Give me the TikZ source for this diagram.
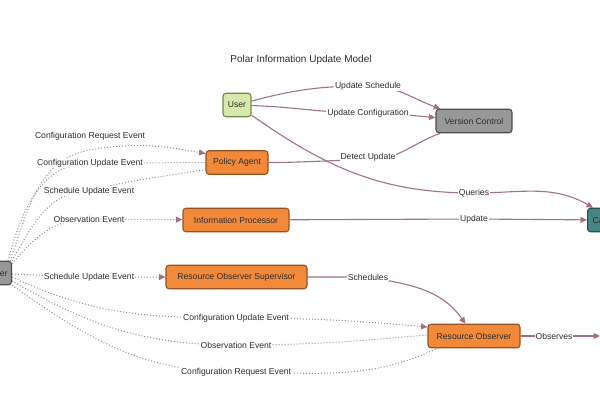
\documentclass[tikz,border=0pt]{standalone}
\usepackage{fontspec}
\setmainfont{Liberation Sans}
\usetikzlibrary{arrows.meta,backgrounds}
\definecolor{agentfill}{RGB}{241,137,58}
\definecolor{agentline}{RGB}{150,82,32}
\definecolor{userfill}{RGB}{214,232,172}
\definecolor{userline}{RGB}{112,140,72}
\definecolor{storefill}{RGB}{152,152,152}
\definecolor{storeline}{RGB}{78,78,78}
\definecolor{cachefill}{RGB}{72,132,132}
\definecolor{cacheline}{RGB}{38,80,80}
\definecolor{linkcol}{RGB}{164,112,132}
\definecolor{eventcol}{RGB}{140,140,140}
\definecolor{inkcol}{RGB}{45,45,45}

\begin{document}
\begin{tikzpicture}[x=1pt, y=-1pt,
  box/.style={draw, rounded corners=3pt, line width=1.1pt, minimum height=23.5pt,
    inner xsep=2pt, text=inkcol, font=\fontsize{8.6}{10}\selectfont},
  agent/.style={box, fill=agentfill, draw=agentline},
  person/.style={box, fill=userfill, draw=userline},
  store/.style={box, fill=storefill, draw=storeline},
  cache/.style={box, fill=cachefill, draw=cacheline},
  lbl/.style={fill=white, inner sep=1pt, text=inkcol, font=\fontsize{8.6}{10}\selectfont},
  tip/.style={-{Triangle[length=6.5pt,width=6pt,color=linkcol]}},
  link/.style={draw=linkcol, line width=1.1pt},
  event/.style={draw=eventcol, line width=1pt, dotted}]
\useasboundingbox (0,0) rectangle (600,400);

\node[font=\fontsize{10}{12}\selectfont, text=inkcol] (title) at (301,60) {Polar Information Update Model};

% actors
\node[person, minimum width=28pt] (user) at (237,105) {User};
\node[store, minimum width=76pt] (vc) at (474,121) {Version Control};
\node[agent, minimum width=62pt] (pa) at (237,162.5) {Policy Agent};
\node[agent, minimum width=106pt] (ip) at (236,220) {Information Processor};
\node[agent, minimum width=141pt] (ros) at (236.5,277) {Resource Observer Supervisor};
\node[agent, minimum width=92pt] (ro) at (474,336) {Resource Observer};
\node[store, anchor=east, inner xsep=4pt] (bus) at (12,273) {Event Broker};
\node[cache, anchor=west, inner xsep=5pt] (cache) at (587,220) {Cache};
\coordinate (obs) at (600,336);

% edge labels
\node[lbl] (lsched) at (368,86) {Update Schedule};
\node[lbl] (lconf) at (368,113) {Update Configuration};
\node[lbl] (ldet) at (368,157) {Detect Update};
\node[lbl] (lqry) at (474,193) {Queries};
\node[lbl] (lupd) at (474,219) {Update};
\node[lbl] (lros) at (368,277) {Schedules};
\node[lbl] (lobs) at (554,336) {Observes};

\foreach \n/\x/\y/\t in {ecr1/90/136/Configuration Request Event,
  ecu1/90/163/Configuration Update Event, esu1/89/191/Schedule Update Event,
  eob1/89/219/Observation Event, esu2/89/277/Schedule Update Event,
  ecu2/236/318/Configuration Update Event, eob2/236/345/Observation Event,
  ecr2/236/372/Configuration Request Event}
{
\node[lbl] (\n) at (\x,\y) {\t};
}

\begin{scope}[on background layer]
\draw[link, tip] (user) to[out=15,in=180] (lsched.center) to[out=0,in=160] (vc);
\draw[link, tip] (user) to[out=-2,in=180] (lconf.center) to[out=0,in=175] (vc);
\draw[link] (pa) to[out=0,in=180] ([yshift=-3pt]ldet.center) to[out=0,in=200] (vc);
\draw[link, tip] (user) to[out=-35,in=180] (lqry.center) to[out=0,in=150] ([xshift=6pt]cache.north west);
\draw[link, tip] (ip) -- (lupd.center) -- (cache);
\draw[link, tip] (ros) to[out=0,in=180] (lros.center) to[out=-10,in=125] (ro);
\draw[link, tip] (ro) -- (lobs.center) -- (obs);

\draw[event, tip] ([xshift=-2pt]bus.north east) to[out=70,in=190] ([yshift=-14pt]ecr1.center)
  to[out=10,in=170] ([yshift=9pt]pa.west);
\draw[event] ([xshift=-4pt]bus.north east) to[out=75,in=180] (ecu1.center) -- (pa);
\draw[event] (bus.north east) to[out=60,in=180] (esu1.center) to[out=15,in=190] ([yshift=-7pt]pa.west);
\draw[event, tip] ([yshift=-3pt]bus.north east) to[out=50,in=180] (eob1.center) -- (ip);
\draw[event, tip] (bus) -- (esu2.center) -- (ros);
\draw[event, tip] ([yshift=-4pt]bus.east) to[out=-25,in=180] (ecu2.center) to[out=0,in=175] ([yshift=9pt]ro.west);
\draw[event] ([yshift=-8pt]bus.east) to[out=-30,in=180] (eob2.center) to[out=0,in=185] ([yshift=1pt]ro.west);
\draw[event] (bus.south east) to[out=-35,in=180] (ecr2.center) to[out=0,in=205] ([xshift=10pt]ro.south west);
\end{scope}
\end{tikzpicture}
\end{document}
